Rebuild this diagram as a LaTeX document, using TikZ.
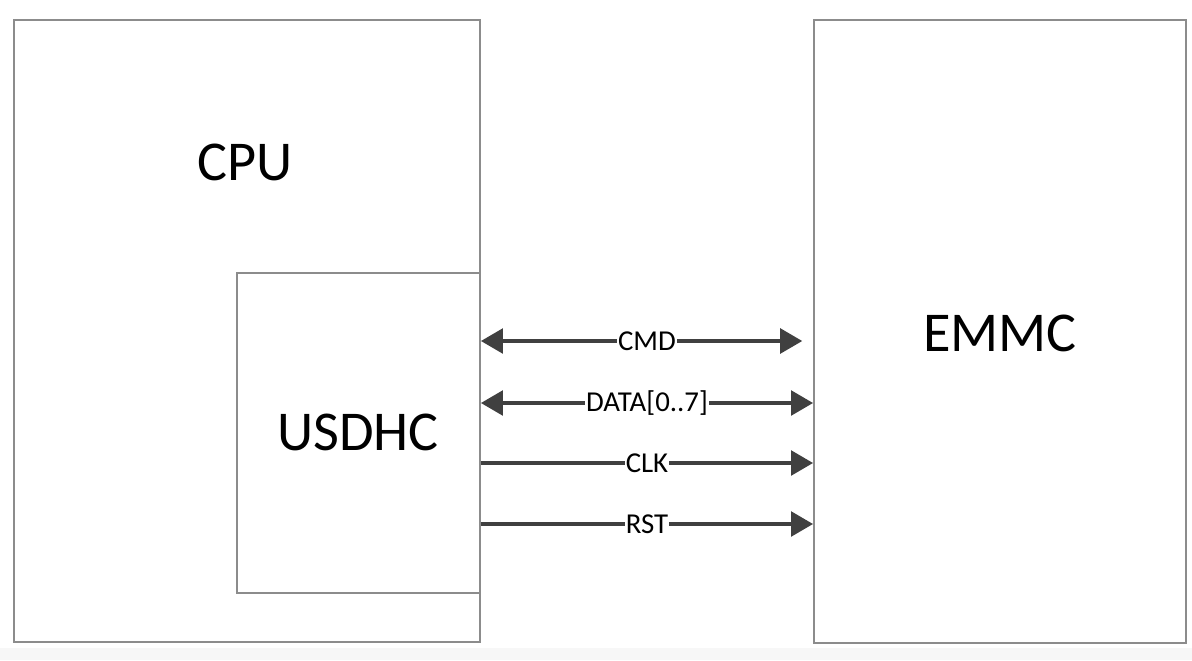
\documentclass[tikz,border=0pt]{standalone}
\usepackage{fontspec}
\setmainfont{Carlito}
\usetikzlibrary{arrows.meta}
\begin{document}
\begin{tikzpicture}[x=0.025cm, y=-0.025cm,
  box/.style={rectangle,draw=black!45,line width=1.3pt,inner sep=0pt},
  big/.style={font=\fontsize{40}{48}\selectfont},
  sig/.style={draw=black!75,line width=2.2pt,-{Triangle[length=0.55cm,width=0.62cm]}},
  sigb/.style={sig,{Triangle[length=0.55cm,width=0.62cm]}-{Triangle[length=0.55cm,width=0.62cm]}},
  lbl/.style={fill=white,inner xsep=0.5pt,inner ysep=2pt,font=\fontsize{20.5}{22}\selectfont}]
\useasboundingbox (0,0) rectangle (1192,660);
\fill[black!3] (0,648) rectangle (1192,660);
\begin{scope}
\node[box,minimum width=11.65cm,minimum height=15.55cm] (cpu) at (247,331) {};%CPU
\node[box,minimum width=9.3cm,minimum height=15.575cm] (emmc) at (1000,331.5) {};%EMMC
\node[box,minimum width=6.075cm,minimum height=8cm] (usdhc) at (358.5,433) {};%USDHC
\node[big] (cputxt) at (245,162) {CPU};
\node[big] (emmctxt) at (1000,333) {EMMC};
\node[big] (usdhctxt) at (358,432) {USDHC};
\end{scope}
\foreach \n/\y in {cmd/341,data/403,clk/463,rst/524}
  \coordinate (\n) at (0,\y);
\begin{scope}
\draw[sigb,shorten >=0.27cm] (usdhc.east |- cmd) -- node[lbl]{CMD} (emmc.west |- cmd);
\draw[sigb] (usdhc.east |- data) -- node[lbl]{DATA[0..7]} (emmc.west |- data);
\draw[sig] (usdhc.east |- clk) -- node[lbl]{CLK} (emmc.west |- clk);
\draw[sig] (usdhc.east |- rst) -- node[lbl]{RST} (emmc.west |- rst);
\end{scope}
\end{tikzpicture}
\end{document}
